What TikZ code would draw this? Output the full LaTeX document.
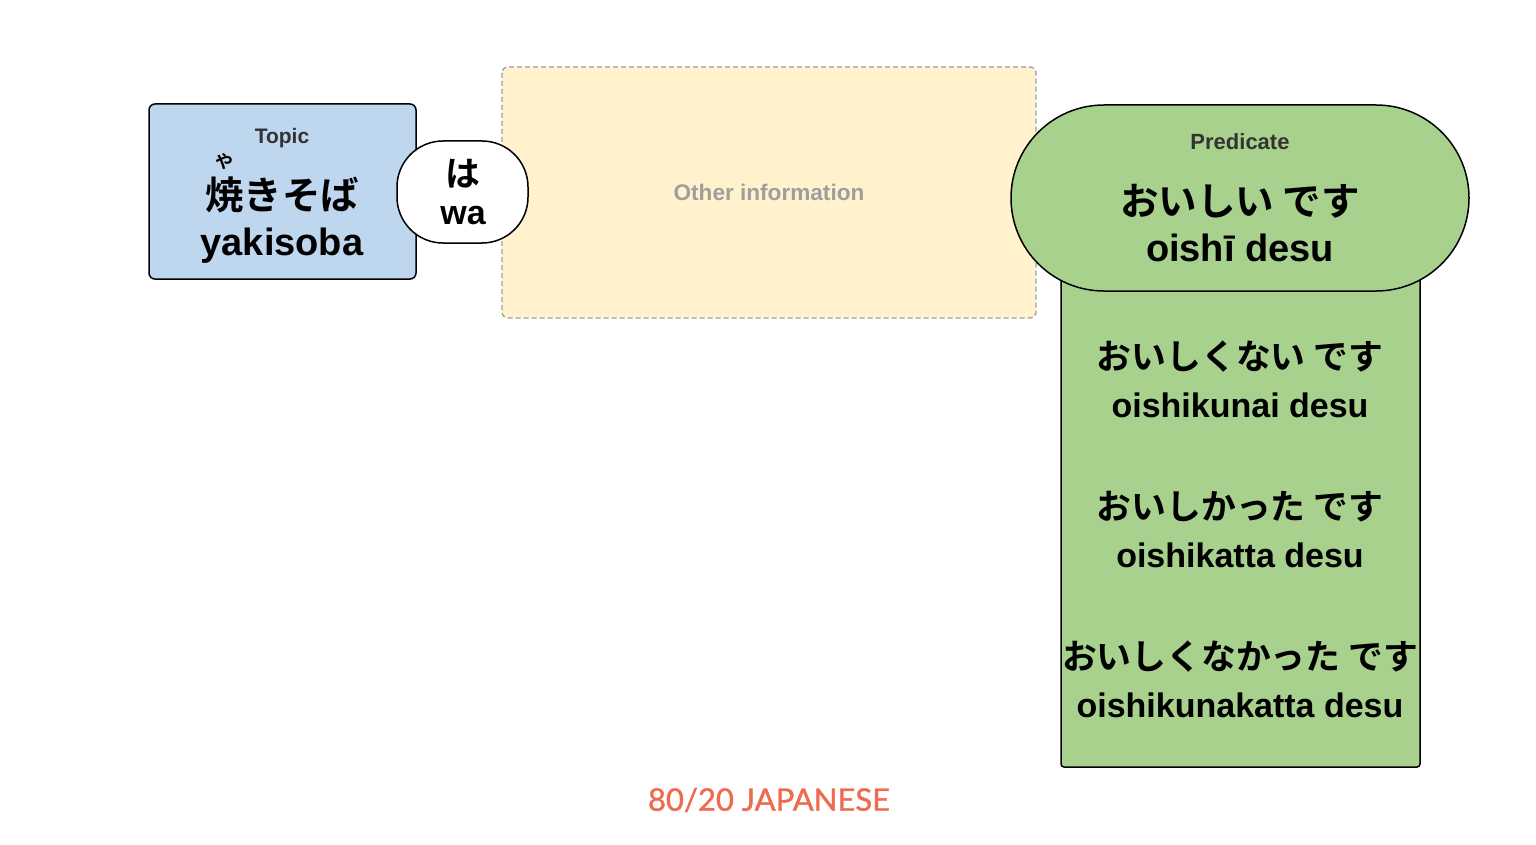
\documentclass[tikz,border=0pt]{standalone}
\usepackage{fontspec}
\setmainfont{Liberation Sans}
\newfontfamily\jp{Noto Sans CJK JP}[BoldFont={* Bold}]
\newfontfamily\logofont{Lato}[FakeBold=1.2]
\definecolor{topicblue}{HTML}{BED7EE}
\definecolor{predgreen}{HTML}{A9D18E}
\definecolor{otheryellow}{HTML}{FFF2CC}
\definecolor{labelgray}{HTML}{333333}
\definecolor{othergray}{HTML}{9E9E9E}
\definecolor{logored}{HTML}{EE6B4F}
\tikzset{
  box/.style={draw=black, line width=1.5pt},
  lbl/.style={font=\bfseries\fontsize{21}{25}\selectfont, text=labelgray},
  big/.style={font=\bfseries\fontsize{38}{44}\selectfont, align=center},
  mid/.style={font=\bfseries\fontsize{34}{40}\selectfont, align=center},
  jbig/.style={font=\jp\bfseries\fontsize{38.5}{44}\selectfont, align=center},
  jmid/.style={font=\jp\bfseries\fontsize{34.8}{40}\selectfont, align=center},
}
\begin{document}
\begin{tikzpicture}[x=1pt,y=-1pt]
\useasboundingbox (0,0) rectangle (1536,845);
% other information box
\draw[fill=otheryellow, draw=othergray, dash pattern=on 5pt off 3pt, line width=1.3pt, rounded corners=6pt]
  (502,67) rectangle (1036,318);
\node[font=\bfseries\fontsize{22.6}{26}\selectfont, text=othergray] (other) at (769,192) {Other information};
% topic box
\draw[box, fill=topicblue, rounded corners=6pt] (149,104) rectangle (416,279);
\node[lbl] (topic) at (282,138) {Topic};
\node[font=\jp\bfseries\fontsize{18}{20}\selectfont] (furi) at (224,162) {や};
\node[jbig] (yk) at (282,195) {焼きそば};
\node[big] (yklat) at (282,246) {yakisoba};
% wa bubble
\draw[box, fill=white, rounded corners=46pt] (397,141) rectangle (528,243);
\node[jmid] (ha) at (463,174) {は};
\node[mid] (wa) at (463,216) {wa};
% predicate rectangle
\draw[box, fill=predgreen, rounded corners=3pt] (1061,250) rectangle (1420,767);
% predicate stadium
\draw[box, fill=predgreen, rounded corners=93pt] (1011,105) rectangle (1469,291);
\node[font=\bfseries\fontsize{22}{26}\selectfont, text=labelgray] (pred) at (1240,142) {Predicate};
\node[jbig] (p1) at (1240,201) {おいしい です};
\node[big] (p1l) at (1240,248) {oishī desu};
\node[jmid] (p2) at (1240,357) {おいしくない です};
\node[mid] (p2l) at (1240,405) {oishikunai desu};
\node[jmid] (p3) at (1240,507) {おいしかった です};
\node[mid] (p3l) at (1240,555) {oishikatta desu};
\node[jmid] (p4) at (1240,657) {おいしくなかった です};
\node[mid] (p4l) at (1240,705) {oishikunakatta desu};
% logo
\node[font=\logofont\fontsize{31}{36}\selectfont, text=logored] (logo) at (769,800) {80/20 JAPANESE};
\end{tikzpicture}
\end{document}
